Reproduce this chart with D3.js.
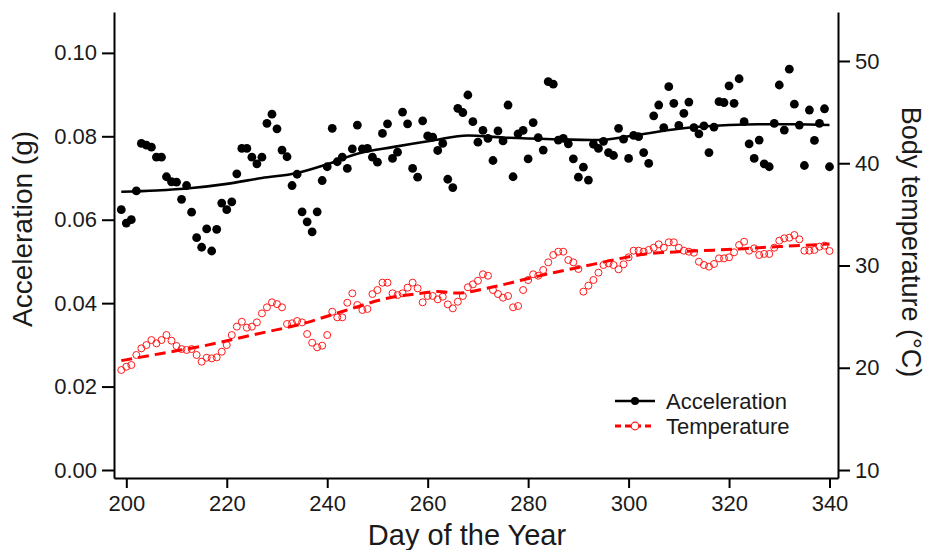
<!DOCTYPE html>
<html>
<head>
<meta charset="utf-8">
<script src="https://cdn.jsdelivr.net/npm/d3@7"></script>
<style>
  body { margin: 0; background: #fff; }
  svg { font-family: "Liberation Sans", Arial, sans-serif; }
</style>
</head>
<body>
<div id="chart"></div>
<script>
// Dados (dia do ano 199..340)
const firstDay = 199;

const accValues = [
  0.0624, 0.0592, 0.0600, 0.0669, 0.0783, 0.0779, 0.0774, 0.0750, 0.0750, 0.0703,
  0.0691, 0.0690, 0.0649, 0.0682, 0.0618, 0.0557, 0.0534, 0.0578, 0.0525, 0.0577,
  0.0640, 0.0624, 0.0643, 0.0710, 0.0771, 0.0771, 0.0750, 0.0734, 0.0750, 0.0831,
  0.0853, 0.0818, 0.0767, 0.0751, 0.0682, 0.0709, 0.0619, 0.0595, 0.0571, 0.0619,
  0.0694, 0.0727, 0.0819, 0.0739, 0.0750, 0.0723, 0.0770, 0.0827, 0.0770, 0.0771,
  0.0750, 0.0738, 0.0807, 0.0830, 0.0747, 0.0762, 0.0858, 0.0830, 0.0723, 0.0702,
  0.0837, 0.0801, 0.0798, 0.0766, 0.0783, 0.0697, 0.0677, 0.0867, 0.0857, 0.0899,
  0.0835, 0.0786, 0.0814, 0.0795, 0.0742, 0.0813, 0.0789, 0.0875, 0.0703, 0.0806,
  0.0814, 0.0746, 0.0833, 0.0797, 0.0767, 0.0931, 0.0925, 0.0791, 0.0795, 0.0782,
  0.0746, 0.0702, 0.0726, 0.0695, 0.0781, 0.0771, 0.0788, 0.0761, 0.0754, 0.0819,
  0.0793, 0.0747, 0.0802, 0.0799, 0.0761, 0.0735, 0.0849, 0.0875, 0.0821, 0.0919,
  0.0879, 0.0826, 0.0855, 0.0882, 0.0821, 0.0806, 0.0825, 0.0761, 0.0822, 0.0883,
  0.0881, 0.0921, 0.0879, 0.0938, 0.0835, 0.0782, 0.0747, 0.0791, 0.0734, 0.0727,
  0.0831, 0.0923, 0.0815, 0.0961, 0.0877, 0.0827, 0.0730, 0.0863, 0.0790, 0.0831,
  0.0866, 0.0727
];

const tempValues = [
  19.78, 20.10, 20.27, 21.25, 21.90, 22.22, 22.71, 22.39, 22.71, 23.20,
  22.65, 22.13, 21.83, 21.74, 21.83, 21.25, 20.59, 20.98, 20.92, 21.02,
  21.57, 22.22, 23.20, 24.02, 24.50, 23.92, 24.02, 24.44, 25.32, 25.91,
  26.40, 26.23, 25.91, 24.28, 24.35, 24.57, 24.44, 23.30, 22.45, 22.00,
  22.16, 23.20, 25.48, 24.93, 24.93, 26.36, 27.28, 26.14, 25.65, 25.75,
  27.21, 27.60, 28.32, 28.32, 27.28, 27.11, 27.28, 27.83, 28.32, 27.77,
  26.40, 27.02, 27.02, 26.69, 26.95, 26.20, 25.81, 26.46, 27.02, 27.87,
  28.16, 28.51, 29.14, 29.00, 27.60, 27.21, 26.85, 27.02, 25.91, 26.04,
  27.60, 28.58, 29.14, 29.00, 29.56, 30.31, 31.03, 31.35, 31.35, 30.54,
  30.31, 29.66, 27.44, 28.03, 28.58, 29.30, 30.05, 30.21, 30.05, 29.63,
  30.12, 30.80, 31.45, 31.45, 31.35, 31.52, 31.74, 32.07, 31.74, 32.27,
  32.27, 31.74, 31.45, 31.35, 31.25, 30.37, 30.05, 29.89, 30.15, 30.70,
  30.70, 30.80, 31.29, 32.00, 32.33, 31.45, 31.68, 31.03, 31.13, 31.13,
  31.74, 32.43, 32.66, 32.72, 32.98, 32.56, 31.45, 31.45, 31.52, 31.84,
  31.94, 31.42
];

// Curvas de tendência (lidas em alguns dias)
const accTrendDays = [199, 206, 213, 220, 227, 234, 240, 246, 253, 261, 268, 275, 285, 294, 300, 310, 320, 326, 333, 340];
const accTrend = [0.0667, 0.0670, 0.0676, 0.0686, 0.0700, 0.0712, 0.0733, 0.0758, 0.0774, 0.0790, 0.0802, 0.0797, 0.0793, 0.0791, 0.0800, 0.0818, 0.0827, 0.0829, 0.0829, 0.0827];

const tempTrendDays = [199, 207, 215, 225, 235, 243, 252, 259, 262, 266, 272, 279, 285, 290, 297, 303, 310, 317, 323, 330, 340];
const tempTrend = [20.7, 21.4, 22.1, 23.2, 24.3, 25.5, 26.8, 27.3, 27.45, 27.3, 27.8, 28.6, 29.3, 29.8, 30.55, 31.1, 31.35, 31.5, 31.65, 31.85, 32.1];

const xTicks = [200, 220, 240, 260, 280, 300, 320, 340];
const accTicks = [0, 0.02, 0.04, 0.06, 0.08, 0.10];
const tempTicks = [10, 20, 30, 40, 50];

const days = accValues.map((_, i) => firstDay + i);

const W = 933, H = 550;
const plot = { left: 114, right: 838, top: 12, bottom: 478 };

const svg = d3.select('#chart').append('svg')
  .attr('width', W).attr('height', H);

const x = d3.scaleLinear().domain([197.55, 341.69]).range([plot.left, plot.right]);
const yAcc = d3.scaleLinear().domain([-0.00192, 0.1098]).range([plot.bottom, plot.top]);
const yTemp = d3.scaleLinear().domain([9.22, 54.79]).range([plot.bottom, plot.top]);

// Eixos
const fs = '22px';
const xAxis = svg.append('g')
  .attr('transform', `translate(0,${plot.bottom})`)
  .call(d3.axisBottom(x).tickValues(xTicks).tickSize(10).tickPadding(4).tickSizeOuter(0));

const yAxisL = svg.append('g')
  .attr('transform', `translate(${plot.left},0)`)
  .call(d3.axisLeft(yAcc).tickValues(accTicks).tickFormat(d3.format('.2f')).tickSize(12).tickPadding(5).tickSizeOuter(0));

const yAxisR = svg.append('g')
  .attr('transform', `translate(${plot.right},0)`)
  .call(d3.axisRight(yTemp).tickValues(tempTicks).tickSize(12).tickPadding(5).tickSizeOuter(0));

[xAxis, yAxisL, yAxisR].forEach(g => {
  g.select('.domain').attr('stroke', '#000').attr('stroke-width', 2);
  g.selectAll('.tick line').attr('stroke', '#000').attr('stroke-width', 2);
  g.selectAll('.tick text').attr('fill', '#1a1a1a').style('font-size', fs)
    .style('font-family', '"Liberation Sans", Arial, sans-serif');
});
xAxis.selectAll('.tick text').attr('dy', '0.85em');

// Títulos dos eixos
svg.append('text')
  .attr('transform', `translate(32,229) rotate(-90)`)
  .attr('text-anchor', 'middle')
  .style('font-size', '28px').attr('fill', '#1a1a1a')
  .text('Acceleration (g)');

svg.append('text')
  .attr('transform', `translate(902,242) rotate(90)`)
  .attr('text-anchor', 'middle')
  .style('font-size', '27px').attr('fill', '#1a1a1a')
  .text('Body temperature (°C)');

svg.append('text')
  .attr('x', 467).attr('y', 545)
  .attr('text-anchor', 'middle')
  .style('font-size', '29px').attr('fill', '#1a1a1a')
  .text('Day of the Year');

// Pontos de aceleração
svg.append('g').selectAll('circle')
  .data(accValues)
  .join('circle')
  .attr('cx', (d, i) => x(days[i]))
  .attr('cy', d => yAcc(d))
  .attr('r', 4.4)
  .attr('fill', '#000');

// Pontos de temperatura
svg.append('g').selectAll('circle')
  .data(tempValues)
  .join('circle')
  .attr('cx', (d, i) => x(days[i]))
  .attr('cy', d => yTemp(d))
  .attr('r', 3.5)
  .attr('fill', 'none')
  .attr('stroke', '#ff1a1a')
  .attr('stroke-width', 1);

// Tendências
const accLine = d3.line()
  .x((d, i) => x(accTrendDays[i]))
  .y(d => yAcc(d))
  .curve(d3.curveMonotoneX);

svg.append('path')
  .datum(accTrend)
  .attr('d', accLine)
  .attr('fill', 'none')
  .attr('stroke', '#000')
  .attr('stroke-width', 2.6);

const tempLine = d3.line()
  .x((d, i) => x(tempTrendDays[i]))
  .y(d => yTemp(d))
  .curve(d3.curveMonotoneX);

svg.append('path')
  .datum(tempTrend)
  .attr('d', tempLine)
  .attr('fill', 'none')
  .attr('stroke', '#ff0000')
  .attr('stroke-width', 3)
  .attr('stroke-dasharray', '11,6');

// Legenda
const legend = svg.append('g');
legend.append('line')
  .attr('x1', 615).attr('x2', 655).attr('y1', 401).attr('y2', 401)
  .attr('stroke', '#000').attr('stroke-width', 2.4);
legend.append('circle').attr('cx', 635).attr('cy', 401).attr('r', 4).attr('fill', '#000');
legend.append('text').attr('x', 666).attr('y', 409)
  .style('font-size', '22px').attr('fill', '#1a1a1a').text('Acceleration');

legend.append('line')
  .attr('x1', 615).attr('x2', 655).attr('y1', 426).attr('y2', 426)
  .attr('stroke', '#ff0000').attr('stroke-width', 3).attr('stroke-dasharray', '6,4');
legend.append('circle').attr('cx', 635).attr('cy', 426).attr('r', 3.8)
  .attr('fill', '#fff').attr('stroke', '#ff1a1a').attr('stroke-width', 1.2);
legend.append('text').attr('x', 666).attr('y', 434)
  .style('font-size', '22px').attr('fill', '#1a1a1a').text('Temperature');
</script>
</body>
</html>
